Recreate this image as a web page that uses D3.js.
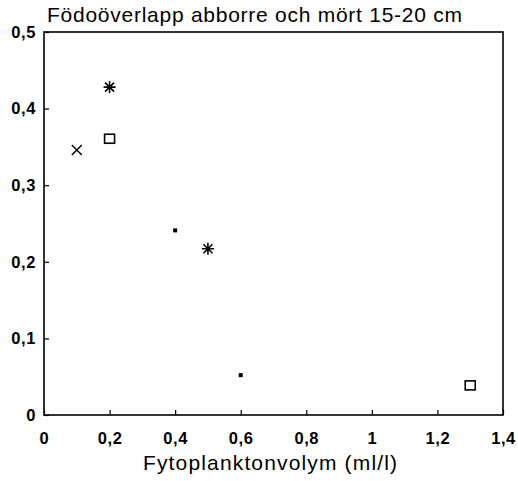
<!DOCTYPE html>
<html><head><meta charset="utf-8">
<script src="https://cdn.jsdelivr.net/npm/d3@7"></script>
<style>body{margin:0;background:#fff}svg{display:block}text{font-family:"Liberation Sans",Arial,sans-serif;fill:#000}</style>
</head><body><div id="chart"></div>
<script>
const title = "Födoöverlapp abborre och mört 15-20 cm";
const xLabel = "Fytoplanktonvolym (ml/l)";
const xTicks = [0, 0.2, 0.4, 0.6, 0.8, 1, 1.2, 1.4];
const yTicks = [0, 0.1, 0.2, 0.3, 0.4, 0.5];
const crossX = [0.1], crossY = [0.346];
const starX = [0.2, 0.5], starY = [0.428, 0.217];
const squareX = [0.2, 1.3], squareY = [0.36, 0.038];
const dotX = [0.4, 0.6], dotY = [0.241, 0.052];

const W = 518, H = 481;
const m = {left: 44, right: 15, top: 32, bottom: 66};
const svg = d3.select("#chart").append("svg").attr("width", W).attr("height", H);
const x = d3.scaleLinear().domain([0, 1.4]).range([m.left, W - m.right]);
const y = d3.scaleLinear().domain([0, 0.5]).range([H - m.bottom, m.top]);
const fmt = d => String(d).replace(".", ",");

svg.append("rect").attr("x", x(0)).attr("y", y(0.5)).attr("width", x(1.4) - x(0)).attr("height", y(0) - y(0.5))
  .attr("fill", "none").attr("stroke", "#000").attr("stroke-width", 1.6);

const xa = svg.append("g").attr("transform", `translate(0,${y(0)})`)
  .call(d3.axisBottom(x).tickValues(xTicks).tickFormat(fmt).tickSizeInner(-5).tickSizeOuter(0).tickPadding(17));
const ya = svg.append("g").attr("transform", `translate(${x(0)},0)`)
  .call(d3.axisLeft(y).tickValues(yTicks).tickFormat(fmt).tickSizeInner(-5).tickSizeOuter(0).tickPadding(8));
[xa, ya].forEach(a => {
  a.select(".domain").remove();
  a.selectAll("line").attr("stroke", "#000").attr("stroke-width", 1.2);
  a.selectAll("text").attr("font-size", 16.5).attr("font-weight", "bold").attr("letter-spacing", 0.6)
    .attr("font-family", "Liberation Sans, Arial, sans-serif");
});

svg.append("text").attr("x", 47).attr("y", 22).attr("font-size", 21).attr("textLength", 415)
  .attr("lengthAdjust", "spacing").text(title);
svg.append("text").attr("x", 143).attr("y", 470).attr("font-size", 21).attr("textLength", 254)
  .attr("lengthAdjust", "spacing").text(xLabel);

const g = svg.append("g");
// cross
g.selectAll(".cross").data(crossX.map((v, i) => [v, crossY[i]])).join("path")
  .attr("transform", d => `translate(${x(d[0])},${y(d[1])})`)
  .attr("d", "M-5,-5L5,5M-5,5L5,-5").attr("stroke", "#000").attr("stroke-width", 1.5).attr("fill", "none");
// asterisk
g.selectAll(".star").data(starX.map((v, i) => [v, starY[i]])).join("path")
  .attr("transform", d => `translate(${x(d[0])},${y(d[1])})`)
  .attr("d", "M0,-6V6M-6,0H6M-4.5,-4.5L4.5,4.5M-4.5,4.5L4.5,-4.5").attr("stroke", "#000").attr("stroke-width", 1.6).attr("fill", "none");
// square
g.selectAll(".sq").data(squareX.map((v, i) => [v, squareY[i]])).join("rect")
  .attr("x", d => x(d[0]) - 5).attr("y", d => y(d[1]) - 5).attr("width", 10).attr("height", 9)
  .attr("fill", "none").attr("stroke", "#000").attr("stroke-width", 1.6);
// dots
g.selectAll(".dot").data(dotX.map((v, i) => [v, dotY[i]])).join("rect")
  .attr("x", d => x(d[0]) - 2).attr("y", d => y(d[1]) - 2).attr("width", 4).attr("height", 4).attr("fill", "#000");
</script></body></html>
